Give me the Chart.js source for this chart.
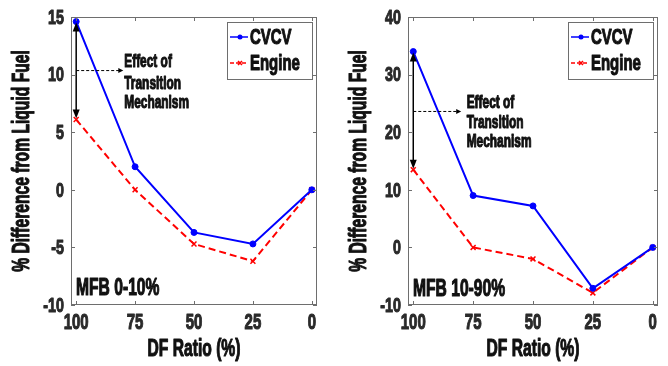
<!DOCTYPE html>
<html>
<head>
<meta charset="utf-8">
<script src="https://cdn.jsdelivr.net/npm/chart.js@4.4.1/dist/chart.umd.min.js"></script>
<style>
  html, body { margin: 0; padding: 0; background: #fff; }
  #wrap { display: flex; width: 668px; height: 366px; }
  .pane { position: relative; width: 334px; height: 366px; }
</style>
</head>
<body>
<div id="wrap">
  <div class="pane"><canvas id="chartEarly"></canvas></div>
  <div class="pane"><canvas id="chartMain"></canvas></div>
</div>
<script>
// DF ratio sweep, % difference from liquid fuel
const dfRatio = [100, 75, 50, 25, 0];
const cvcvEarly = [14.6, 2, -3.7, -4.7, 0];
const engineEarly = [6.1, 0, -4.7, -6.2, 0];
const cvcvMain = [34, 9, 7.2, -7.1, 0];
const engineMain = [13.5, 0, -2, -7.9, 0];
const yTicksEarly = [-10, -5, 0, 5, 10, 15];
const yTicksMain = [-10, 0, 10, 20, 30, 40];
const seriesNames = ["CVCV", "Engine"];
const xTitle = "DF Ratio (%)";
const yTitle = "% Difference from Liquid Fuel";
const noteLines = ["Effect of", "Transition", "Mechanism"];

const FONT = '"Liberation Sans", Arial, sans-serif';
const SQ = 0.68; // narrow glyphs
const BOX = "#6e6e6e";

const pts = (vals) => dfRatio.map((x, i) => ({ x, y: vals[i] }));

function narrowText(ctx, text, x, y, size, align, color, rot) {
  ctx.save();
  ctx.translate(x, y);
  if (rot) ctx.rotate(rot);
  ctx.scale(SQ, 1);
  ctx.font = "bold " + size + "px " + FONT;
  ctx.fillStyle = ctx.strokeStyle = color || "#111";
  ctx.lineWidth = 1.1;
  ctx.lineJoin = "round";
  ctx.textAlign = align;
  ctx.textBaseline = "middle";
  ctx.fillText(text, 0, 0);
  ctx.strokeText(text, 0, 0); // heavier strokes
  ctx.restore();
}

// box, inward ticks, labels, legend and the arrow notes
const figNotes = {
  id: "figNotes",
  afterDatasetsDraw(chart, args, o) {
    const { ctx, chartArea: a } = chart;
    const xs = chart.scales.x, ys = chart.scales.y;
    ctx.save();
    ctx.strokeStyle = BOX;
    ctx.lineWidth = 1;
    ctx.strokeRect(a.left + 0.5, a.top + 0.5, a.width - 1, a.height - 1);
    ctx.beginPath();
    for (const t of xs.ticks) {
      const px = Math.round(xs.getPixelForValue(t.value)) + 0.5;
      ctx.moveTo(px, a.bottom); ctx.lineTo(px, a.bottom - 4);
      ctx.moveTo(px, a.top); ctx.lineTo(px, a.top + 4);
    }
    for (const t of ys.ticks) {
      const py = Math.round(ys.getPixelForValue(t.value)) + 0.5;
      ctx.moveTo(a.left, py); ctx.lineTo(a.left + 4, py);
      ctx.moveTo(a.right, py); ctx.lineTo(a.right - 4, py);
    }
    ctx.stroke();

    // tick labels and axis titles
    for (const t of xs.ticks) narrowText(ctx, String(t.value), xs.getPixelForValue(t.value), a.bottom + 18, 22, "center", "#2a2a2a");
    for (const t of ys.ticks) narrowText(ctx, String(t.value), a.left - 7, ys.getPixelForValue(t.value) + 1, 21, "right", "#2a2a2a");
    narrowText(ctx, xTitle, (a.left + a.right) / 2, 350, 23, "center");
    narrowText(ctx, yTitle, a.left - 48, (a.top + a.bottom) / 2, 23, "center", "#111", -Math.PI / 2);

    // double arrow between the two series at DF 100
    const ax = xs.getPixelForValue(o.arrowX);
    const y1 = ys.getPixelForValue(o.arrowTop), y2 = ys.getPixelForValue(o.arrowBottom);
    ctx.strokeStyle = "#000"; ctx.fillStyle = "#000"; ctx.lineWidth = 1.5;
    ctx.beginPath(); ctx.moveTo(ax, y1 + 6); ctx.lineTo(ax, y2 - 6); ctx.stroke();
    ctx.beginPath(); ctx.moveTo(ax, y1 + 1); ctx.lineTo(ax - 3.5, y1 + 10); ctx.lineTo(ax + 3.5, y1 + 10); ctx.fill();
    ctx.beginPath(); ctx.moveTo(ax, y2 - 1); ctx.lineTo(ax - 3.5, y2 - 10); ctx.lineTo(ax + 3.5, y2 - 10); ctx.fill();

    // dashed pointer to the note
    const py = ys.getPixelForValue(o.pointerY), pEnd = xs.getPixelForValue(o.pointerEnd);
    ctx.lineWidth = 1; ctx.setLineDash([3, 2]);
    ctx.beginPath(); ctx.moveTo(ax, py); ctx.lineTo(pEnd - 4, py); ctx.stroke();
    ctx.setLineDash([]);
    ctx.beginPath(); ctx.moveTo(pEnd, py); ctx.lineTo(pEnd - 5, py - 2.5); ctx.lineTo(pEnd - 5, py + 2.5); ctx.fill();

    noteLines.forEach((s, i) => narrowText(ctx, s, xs.getPixelForValue(o.noteX), ys.getPixelForValue(o.noteY[i]), 17.5, "left"));
    narrowText(ctx, o.caption, a.left + 5, ys.getPixelForValue(o.captionY), 23, "left");

    // legend box, top right
    const lw = 85, lh = 57, lx = a.right - 5 - lw, ly = a.top + 5;
    ctx.fillStyle = "#fff"; ctx.fillRect(lx, ly, lw, lh);
    ctx.strokeStyle = BOX; ctx.lineWidth = 1;
    ctx.strokeRect(lx + 0.5, ly + 0.5, lw, lh);
    chart.data.datasets.forEach((ds, i) => {
      const cy = ly + 15 + i * 26;
      ctx.strokeStyle = ds.borderColor; ctx.fillStyle = ds.borderColor; ctx.lineWidth = 1.5;
      ctx.setLineDash(ds.borderDash ? [4, 2] : []);
      ctx.beginPath(); ctx.moveTo(lx + 3, cy); ctx.lineTo(lx + 21, cy); ctx.stroke();
      ctx.setLineDash([]);
      if (ds.pointStyle === "circle") {
        ctx.beginPath(); ctx.arc(lx + 13, cy, 2.5, 0, Math.PI * 2); ctx.fill();
      } else {
        ctx.beginPath();
        ctx.moveTo(lx + 11, cy - 2); ctx.lineTo(lx + 15, cy + 2);
        ctx.moveTo(lx + 15, cy - 2); ctx.lineTo(lx + 11, cy + 2); ctx.stroke();
      }
      narrowText(ctx, ds.label, lx + 23, cy + 1, 22, "left");
    });
    ctx.restore();
  },
};

function makeChart(id, cvcv, engine, yTicks, leftW, rightPad, notes) {
  const yMin = yTicks[0], yMax = yTicks[yTicks.length - 1];
  return new Chart(document.getElementById(id).getContext("2d"), {
    type: "line",
    data: {
      datasets: [
        { label: seriesNames[0], data: pts(cvcv), borderColor: "#0000ff", backgroundColor: "#0000ff", borderWidth: 2, pointStyle: "circle", pointRadius: 3, pointBorderWidth: 1, tension: 0 },
        { label: seriesNames[1], data: pts(engine), borderColor: "#ff0000", backgroundColor: "#ff0000", borderWidth: 2, borderDash: [7, 4], pointStyle: "crossRot", pointRadius: 3.5, pointBorderWidth: 1.5, tension: 0 },
      ],
    },
    options: {
      responsive: false,
      animation: false,
      layout: { padding: { top: 17, right: rightPad, left: 0, bottom: 0 } },
      plugins: { legend: { display: false }, tooltip: { enabled: false }, figNotes: notes },
      scales: {
        x: {
          type: "linear", reverse: true, min: -2.2, max: 102.2,
          afterBuildTicks: (s) => { s.ticks = dfRatio.map((v) => ({ value: v })); },
          afterFit: (s) => { s.height = 61; },
          grid: { display: false }, border: { display: false },
          ticks: { display: false },
        },
        y: {
          min: yMin, max: yMax,
          afterBuildTicks: (s) => { s.ticks = yTicks.map((v) => ({ value: v })); },
          afterFit: (s) => { s.width = leftW; },
          grid: { display: false }, border: { display: false },
          ticks: { display: false },
        },
      },
    },
    plugins: [figNotes],
  });
}

for (const c of document.querySelectorAll("canvas")) { c.width = 334; c.height = 366; }

makeChart("chartEarly", cvcvEarly, engineEarly, yTicksEarly, 71, 17, {
  arrowX: 100, arrowTop: cvcvEarly[0], arrowBottom: engineEarly[0],
  pointerY: 10.35, pointerEnd: 80,
  noteX: 79.6, noteY: [11.05, 9.15, 7.5],
  caption: "MFB 0-10%", captionY: -8.6,
});
makeChart("chartMain", cvcvMain, engineMain, yTicksMain, 74, 10, {
  arrowX: 100, arrowTop: cvcvMain[0], arrowBottom: engineMain[0],
  pointerY: 23.6, pointerEnd: 80,
  noteX: 77.7, noteY: [25.1, 21.5, 18.2],
  caption: "MFB 10-90%", captionY: -7.3,
});
</script>
</body>
</html>
